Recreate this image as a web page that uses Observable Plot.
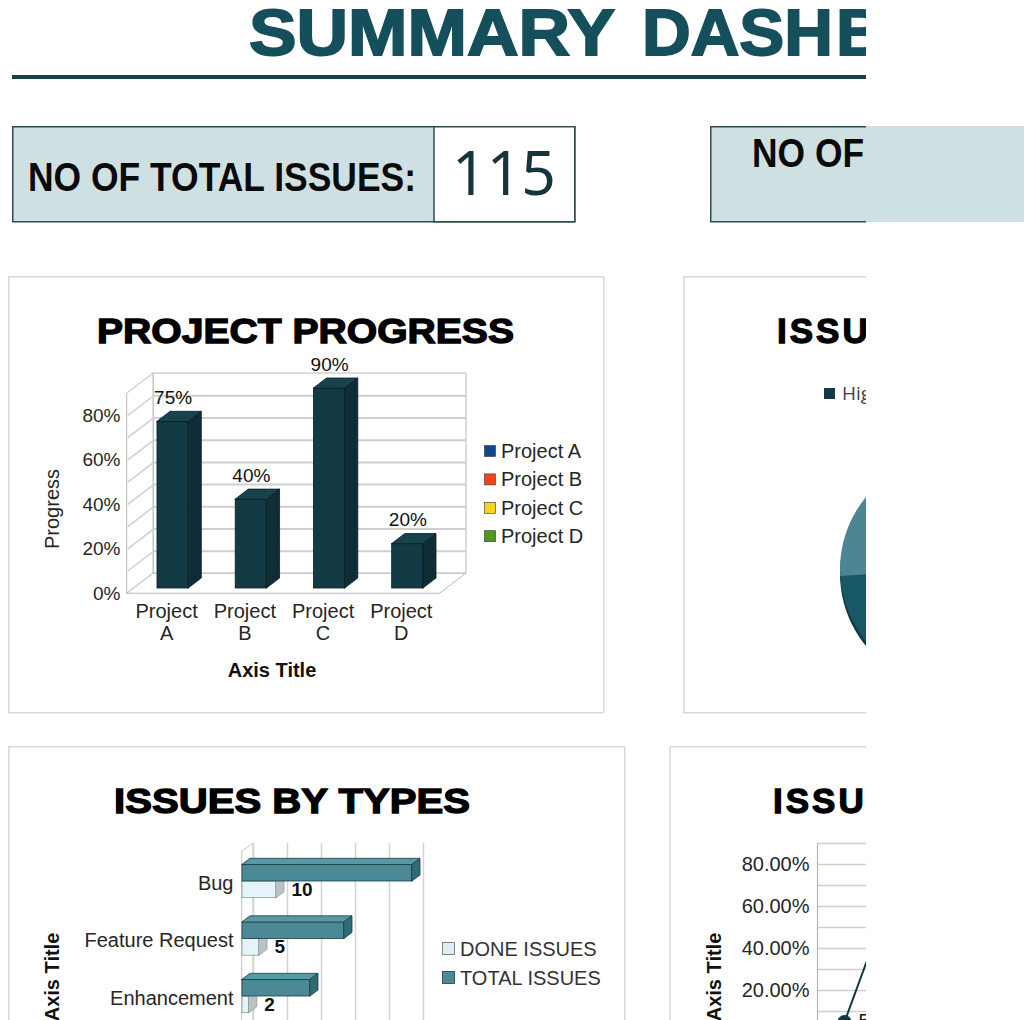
<!DOCTYPE html>
<html><head><meta charset="utf-8">
<script src="https://cdn.jsdelivr.net/npm/d3@7"></script>
<script src="https://cdn.jsdelivr.net/npm/@observablehq/plot@0.6"></script>
<style>
body{margin:0;background:#fff;font-family:"Liberation Sans",Arial,sans-serif;}
#page{position:relative;width:1032px;height:1020px;overflow:hidden;background:#fff}
#clip{position:absolute;left:0;top:0;width:866px;height:1020px;overflow:hidden}
.chart{position:absolute}
#decor{position:absolute;left:0;top:0;pointer-events:none}
</style></head>
<body>
<div id="page">
  <div id="clip">
    <div id="c1" class="chart" style="left:8px;top:276px;width:595px;height:436px"></div>
    <div id="c2" class="chart" style="left:684px;top:276px;width:595px;height:436px"></div>
    <div id="c3" class="chart" style="left:8px;top:746px;width:616px;height:400px"></div>
    <div id="c4" class="chart" style="left:670px;top:746px;width:600px;height:400px"></div>
    <svg id="decor" width="1400" height="1100"></svg>
  </div>
  <div style="position:absolute;left:866px;top:126px;width:158px;height:96px;background:#cfe0e3"></div>
</div>
<script>
// ---------------- data ----------------
const dashboardTitle = ["SUMMARY", "DASH", "BOARD"];
const totalIssueCount = 115;

const projects = ["Project A", "Project B", "Project C", "Project D"];
const progress = [75, 40, 90, 20];
const projectLegendColors = ["#0d4a8b", "#f0461a", "#f8d21e", "#4c9a1e"];
const progressTicks = [0, 20, 40, 60, 80];
const progressGrid = [10, 20, 30, 40, 50, 60, 70, 80];

const priorities = ["High", "Medium", "Low"];
const priorityCounts = [40, 34, 26];
const priorityColors = ["#123a44", "#185764", "#4b8692"];

const issueTypes = ["Bug", "Feature Request", "Enhancement"];
const totalIssues = [50, 30, 20];
const doneIssues = [10, 5, 2];
const typeGrid = [0, 10, 20, 30, 40, 50];

const rateValues = [0.05, 0.75];
const rateTicks = [0.2, 0.4, 0.6, 0.8];
const rateGrid = [0.1, 0.2, 0.3, 0.4, 0.5, 0.6, 0.7, 0.8, 0.9];

// ---------------- common ----------------
const FONT = "Liberation Sans, Arial, sans-serif";
const S = {background: "transparent", maxWidth: "none", fontFamily: FONT, fontSize: "20px", color: "#262626", overflow: "visible"};
const INK = "#262626";

// ---------------- chart 1: project progress (3D columns) ----------------
{
  const DX = 1/3, DY = 9, TOP = 90;
  const n = projects.length;
  const pb = projects.map((p, i) => ({p, i, v: progress[i], x1: i + 0.3 + DX/4, x2: i + 0.7 + DX/4, base: DY/4}));
  const side = pb.flatMap(d => [
    {p: d.p, x: d.x2, y1: d.base, y2: d.v + d.base},
    {p: d.p, x: d.x2 + DX/2, y1: d.base + DY/2, y2: d.v + d.base + DY/2}]);
  const top = pb.flatMap(d => [
    {p: d.p, y: d.v + d.base, x1: d.x1, x2: d.x2},
    {p: d.p, y: d.v + d.base + DY/2, x1: d.x1 + DX/2, x2: d.x2 + DX/2}]);
  const wall = "#b9b9b9", grid = "#cfcfcf", edge = "#0a1c21";
  const chart = Plot.plot({
    width: 595, height: 436, marginLeft: 119, marginRight: 137, marginTop: 97, marginBottom: 119,
    x: {domain: [0, n + DX], axis: null},
    y: {domain: [0, TOP + DY], axis: null},
    style: S,
    marks: [
      Plot.areaX([{y: 0, x1: 0, x2: n}, {y: DY, x1: DX, x2: n + DX}], {y: "y", x1: "x1", x2: "x2", fill: "#fff", stroke: wall}),
      Plot.rect([0], {x1: DX, x2: n + DX, y1: DY, y2: TOP + DY, fill: "#fff", stroke: wall}),
      Plot.areaY([{x: 0, y1: 0, y2: TOP}, {x: DX, y1: DY, y2: TOP + DY}], {x: "x", y1: "y1", y2: "y2", fill: "#fff", stroke: wall}),
      Plot.ruleY(progressGrid, {y: d => d + DY, x1: DX, x2: n + DX, stroke: grid, strokeWidth: 2}),
      Plot.link(progressGrid, {x1: 0, y1: d => d, x2: DX, y2: d => d + DY, stroke: grid, strokeWidth: 1.5}),
      Plot.rect(pb, {x1: "x1", x2: "x2", y1: "base", y2: d => d.v + d.base, fill: "#133b45", stroke: edge, strokeWidth: 0.8}),
      Plot.areaY(side, {x: "x", y1: "y1", y2: "y2", z: "p", fill: "#0e2d35", stroke: edge, strokeWidth: 0.8}),
      Plot.areaX(top, {y: "y", x1: "x1", x2: "x2", z: "p", fill: "#18434d", stroke: edge, strokeWidth: 0.8}),
      Plot.text(pb, {x: d => d.i + 0.5 + DX/4, y: d => d.v + d.base, text: d => d.v + "%", dy: -18, lineAnchor: "bottom", fontSize: 19, fill: "#111"}),
      Plot.text(progressTicks, {x: 0, y: d => d, text: d => d + "%", textAnchor: "end", dx: -7, fontSize: 19, fill: INK}),
      Plot.text(pb, {x: d => d.i + 0.5, y: 0, text: d => d.p.split(" ")[0], dy: 24, lineAnchor: "bottom", fill: INK}),
      Plot.text(pb, {x: d => d.i + 0.5, y: 0, text: d => d.p.split(" ")[1], dy: 46, lineAnchor: "bottom", fill: INK})
    ]
  });
  document.getElementById("c1").append(chart);
}

// ---------------- chart 2: issues by priority (pie) ----------------
{
  const pieData = priorities.map((p, i) => ({p, c: priorityCounts[i], color: priorityColors[i]}));
  const cx = 269, cy = 293, R = 113;
  const pieMark = () => {
    const g = d3.create("svg:g").attr("transform", `translate(${cx},${cy})`);
    const arcs = d3.pie().sort(null).value(d => d.c)(pieData);
    const arc = d3.arc().innerRadius(0).outerRadius(R);
    g.append("g").attr("transform", "translate(0,5)")
      .selectAll("path").data(arcs).join("path").attr("d", arc).attr("fill", "#0f3b45");
    g.append("g").selectAll("path").data(arcs).join("path").attr("d", arc).attr("fill", d => d.data.color);
    return g.node();
  };
  const chart = Plot.plot({width: 595, height: 436, style: S, marks: [pieMark]});
  document.getElementById("c2").append(chart);
}

// ---------------- chart 3: issues by types (3D horizontal bars) ----------------
{
  const WDX = 11/3.4, WDY = 8/57.5, BDX = 8/3.4, BDY = 6/57.5, H = 0.29, GT = -0.66, YB = 3.5;
  const rows = issueTypes.map((t, i) => ({t, i, total: totalIssues[i], done: doneIssues[i]}));
  const doneSide = rows.flatMap(d => [
    {t: d.t, x: d.done, y1: d.i + H, y2: d.i},
    {t: d.t, x: d.done + BDX, y1: d.i + H - BDY, y2: d.i - BDY}]);
  const totSide = rows.flatMap(d => [
    {t: d.t, x: d.total, y1: d.i, y2: d.i - H},
    {t: d.t, x: d.total + BDX, y1: d.i - BDY, y2: d.i - H - BDY}]);
  const totTop = rows.flatMap(d => [
    {t: d.t, y: d.i - H, x1: 0, x2: d.total},
    {t: d.t, y: d.i - H - BDY, x1: BDX, x2: d.total + BDX}]);
  const chart = Plot.plot({
    width: 616, height: 400, marginLeft: 234, marginRight: 212, marginTop: 106.25, marginBottom: 63.75,
    x: {domain: [0, 50], axis: null},
    y: {domain: [3.5, -0.5], axis: null},
    style: S,
    marks: [
      Plot.areaY([{x: 0, y1: YB, y2: GT + WDY}, {x: WDX, y1: YB, y2: GT}], {x: "x", y1: "y1", y2: "y2", fill: "#fff", stroke: "#c4c4c4"}),
      Plot.ruleX(typeGrid, {x: d => d + WDX, y1: GT, y2: YB, stroke: "#d3d3d3", strokeWidth: 1.5}),
      Plot.rect(rows, {x1: 0, x2: "done", y1: "i", y2: d => d.i + H, fill: "#e4f4f8", stroke: "#8c9a9c", strokeWidth: 0.8}),
      Plot.areaY(doneSide, {x: "x", y1: "y1", y2: "y2", z: "t", fill: "#b9c4c5", stroke: "#8c9a9c", strokeWidth: 0.8}),
      Plot.rect(rows, {x1: 0, x2: "total", y1: d => d.i - H, y2: "i", fill: "#4a8995", stroke: "#1c3c44", strokeWidth: 0.8}),
      Plot.areaX(totTop, {y: "y", x1: "x1", x2: "x2", z: "t", fill: "#5798a4", stroke: "#1c3c44", strokeWidth: 0.8}),
      Plot.areaY(totSide, {x: "x", y1: "y1", y2: "y2", z: "t", fill: "#2e6b77", stroke: "#1c3c44", strokeWidth: 0.8}),
      Plot.text(rows, {x: d => d.done + BDX, y: d => d.i + 0.145, text: "done", dx: 7, textAnchor: "start", fontWeight: "bold", fontSize: 19, fill: "#111"}),
      Plot.text(rows, {x: 0, y: d => d.i + 0.03, text: "t", dx: -9, textAnchor: "end", fill: INK})
    ]
  });
  document.getElementById("c3").append(chart);
}

// ---------------- chart 4: line chart ----------------
{
  const pts = rateValues.map((v, i) => ({i, v}));
  const chart = Plot.plot({
    width: 600, height: 400, marginLeft: 147, marginRight: 21, marginTop: 97, marginBottom: 114,
    x: {domain: [-0.5, 7.5], axis: null},
    y: {domain: [0, 0.9], axis: null},
    style: S,
    marks: [
      Plot.ruleY(rateGrid, {x1: -0.5, x2: 7.5, stroke: "#d0d0d0", strokeWidth: 1.5}),
      Plot.ruleX([-0.5], {y1: 0, y2: 0.9, stroke: "#b5b5b5", strokeWidth: 1.2}),
      Plot.line(pts, {x: "i", y: "v", stroke: "#0f3a44", strokeWidth: 2}),
      Plot.dot(pts, {x: "i", y: "v", r: 7, fill: "#0f3a44", stroke: "none"}),
      Plot.text(pts, {x: "i", y: "v", text: d => d3.format(".2%")(d.v), dx: 14, textAnchor: "start", fill: "#111"}),
      Plot.text(rateTicks, {x: -0.5, y: d => d, text: d => d3.format(".2%")(d), textAnchor: "end", dx: -8, fill: INK})
    ]
  });
  document.getElementById("c4").append(chart);
}

// ---------------- decor: header, boxes, titles, legends ----------------
{
  const svg = d3.select("#decor");
  const T = (x, y, s, a = {}) => {
    const t = svg.append("text").attr("x", x).attr("y", y).text(s).attr("font-family", FONT);
    for (const [k, v] of Object.entries(a)) t.attr(k, v);
    return t;
  };
  const R = (x, y, w, h, a = {}) => {
    const r = svg.append("rect").attr("x", x).attr("y", y).attr("width", w).attr("height", h);
    for (const [k, v] of Object.entries(a)) r.attr(k, v);
    return r;
  };
  // panel borders
  const pb = {fill: "none", stroke: "#d9d9d9", "stroke-width": 1.5};
  R(8.75, 276.75, 595, 436, pb);
  R(684, 276.75, 595, 436, pb);
  R(8.75, 746.75, 616, 400, pb);
  R(670, 746.75, 600, 400, pb);

  // main title
  const tc = "#164f5c";
  const tt = {"font-size": 64, "font-weight": 700, fill: tc, stroke: tc, "stroke-width": 1.8, lengthAdjust: "spacingAndGlyphs"};
  T(249, 55, dashboardTitle[0], {...tt, textLength: 366});
  T(642, 55, dashboardTitle[1], {...tt, textLength: 191});
  T(836, 55, dashboardTitle[2], {...tt, textLength: 250});
  R(12, 75, 1300, 4, {fill: "#1d3d46"});

  // KPI boxes
  const bs = {stroke: "#2d4c55", "stroke-width": 1.5};
  R(12.75, 126.75, 562, 95, {fill: "#cfe0e3", ...bs});
  R(434, 126.75, 140.75, 95, {fill: "#ffffff", ...bs});
  R(710.75, 126.75, 700, 95, {fill: "#cfe0e3", ...bs});
  const kl = {"font-family": "Liberation Sans Narrow, Liberation Sans, Arial, sans-serif", "font-size": 41, "font-weight": 700, fill: "#0a0a0a", lengthAdjust: "spacingAndGlyphs"};
  T(28, 191, "NO OF TOTAL ISSUES:", {...kl, textLength: 388});
  T(452, 195, String(totalIssueCount), {"font-family": "Noto Sans, Open Sans, sans-serif", "font-size": 62, "font-weight": 400, fill: "#17343d", textLength: 104, lengthAdjust: "spacingAndGlyphs"});
  T(752, 167, "NO OF", {...kl, textLength: 112});

  // panel titles
  const pt = {"font-size": 35, "font-weight": 700, fill: "#000", stroke: "#000", "stroke-width": 1.3};
  T(97, 343, "PROJECT PROGRESS", {...pt, textLength: 417, lengthAdjust: "spacingAndGlyphs"});
  T(777, 343, "ISSUES BY PRIORITY", {...pt, "letter-spacing": 3});
  T(114, 813, "ISSUES BY TYPES", {...pt, textLength: 356, lengthAdjust: "spacingAndGlyphs"});
  T(773, 813, "ISSUES BY STATUS", {...pt, "letter-spacing": 3});

  // axis titles
  T(0, 0, "Progress", {"font-size": 20, fill: INK, "text-anchor": "middle", transform: "translate(59,509) rotate(-90)"});
  T(272, 677, "Axis Title", {"font-size": 20, "font-weight": 700, fill: "#111", "text-anchor": "middle"});
  T(0, 0, "Axis Title", {"font-size": 20, "font-weight": 700, fill: "#111", "text-anchor": "middle", transform: "translate(59,977) rotate(-90)"});
  T(0, 0, "Axis Title", {"font-size": 20, "font-weight": 700, fill: "#111", "text-anchor": "middle", transform: "translate(721,977) rotate(-90)"});

  // legend: project progress
  projects.forEach((p, i) => {
    const yc = 451 + i * 28.4;
    R(484.5, yc - 5.5, 11, 11, {fill: projectLegendColors[i], stroke: "#333", "stroke-width": 0.6});
    T(501, yc + 7, p, {"font-size": 20, fill: INK});
  });
  // legend: priority
  R(824, 388, 11, 11, {fill: priorityColors[0]});
  T(842, 400, priorities[0], {"font-family": "Open Sans, Noto Sans, sans-serif", "font-size": 19, fill: "#404040"});
  // legend: types
  R(442.5, 942.5, 12, 12, {fill: "#ddeef2", stroke: "#666", "stroke-width": 0.8});
  T(460, 955.5, "DONE ISSUES", {"font-size": 20, fill: "#333"});
  R(442.5, 971.5, 12, 12, {fill: "#4a8995", stroke: "#1c3c44", "stroke-width": 0.8});
  T(460, 984.5, "TOTAL ISSUES", {"font-size": 20, fill: "#333"});
}
</script>
</body></html>
